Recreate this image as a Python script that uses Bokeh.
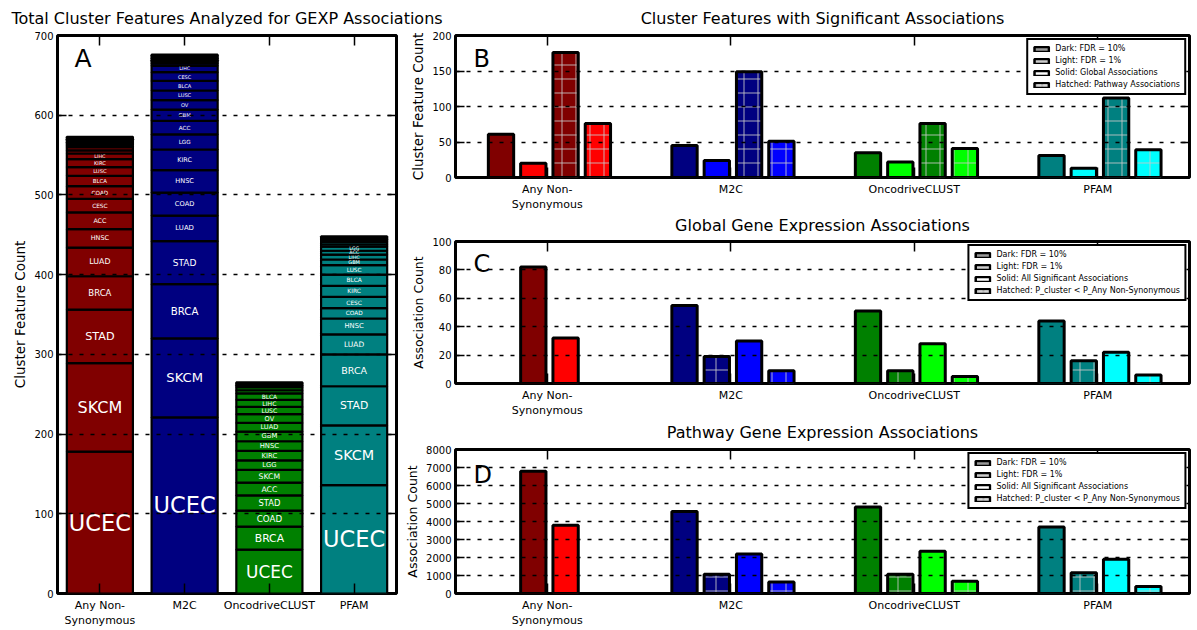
import numpy as np
from bokeh.plotting import figure
from bokeh.models import (ColumnDataSource, FactorRange, Range1d, FixedTicker,
                          LinearAxis, CategoricalAxis, Label, Legend, LegendItem)
from bokeh.layouts import column, row
from bokeh.transform import dodge
from bokeh.core.properties import value
from bokeh.embed import file_html
from bokeh.resources import INLINE

FONT = "DejaVu Sans"

# ---------------- data ----------------
categories = ["Any Non-\nSynonymous", "M2C", "OncodriveCLUST", "PFAM"]
dark_colors = ["#800000", "#000080", "#008000", "#008080"]
light_colors = ["#ff0000", "#0000ff", "#00ff00", "#00ffff"]

# Panel A: cluster features per tumour type (stacked, bottom to top)
any_types = ["UCEC", "SKCM", "STAD", "BRCA", "LUAD", "HNSC", "ACC", "CESC", "COAD", "BLCA",
             "LUSC", "KIRC", "LIHC", "GBM", "LGG", "OV", "PRAD", "KIRP", "READ", "THCA", "UCS", "ESCA"]
any_counts = [178, 111, 67, 42, 36, 23, 21, 17, 16, 13, 11, 10, 7, 4, 4, 2, 2, 2, 2, 2, 2, 1]
m2c_types = ["UCEC", "SKCM", "BRCA", "STAD", "LUAD", "COAD", "HNSC", "KIRC", "LGG", "ACC", "GBM",
             "OV", "LUSC", "BLCA", "CESC", "LIHC", "PRAD", "KIRP", "READ", "THCA", "UCS", "ESCA", "PAAD"]
m2c_counts = [221, 99, 68, 54, 32, 29, 28, 26, 19, 17, 14, 12, 12, 12, 11, 8, 3, 2, 2, 2, 2, 2, 1]
onco_types = ["UCEC", "BRCA", "COAD", "STAD", "ACC", "SKCM", "LGG", "KIRC", "HNSC", "GBM", "LUAD",
              "OV", "LUSC", "LIHC", "BLCA", "CESC", "KIRP", "PRAD", "READ", "THCA"]
onco_counts = [55, 29, 20, 19, 16, 16, 12, 12, 12, 12, 11, 11, 9, 9, 8, 4, 4, 2, 2, 2]
pfam_types = ["UCEC", "SKCM", "STAD", "BRCA", "LUAD", "HNSC", "COAD", "CESC", "KIRC", "BLCA", "LUSC",
              "GBM", "LIHC", "ACC", "LGG", "OV", "PRAD", "KIRP", "READ", "THCA"]
pfam_counts = [136, 75, 49, 40, 25, 20, 13, 14, 14, 14, 12, 7, 6, 5, 5, 3, 3, 3, 2, 2]

a_ticks = [0, 100, 200, 300, 400, 500, 600, 700]
b_ticks = [0, 50, 100, 150, 200]
c_ticks = [0, 20, 40, 60, 80, 100]
d_ticks = [0, 1000, 2000, 3000, 4000, 5000, 6000, 7000, 8000]

# Panel B: cluster features with significant associations
b_dark_global = [61, 45, 35, 31]
b_light_global = [20, 24, 22, 13]
b_dark_pathway = [176, 149, 76, 112]
b_light_pathway = [76, 51, 41, 39]

# Panel C: global gene expression associations
c_dark_all = [82, 55, 51, 44]
c_dark_better = [None, 19, 9, 16]
c_light_all = [32, 30, 28, 22]
c_light_better = [None, 9, 5, 6]

# Panel D: pathway gene expression associations
d_dark_all = [6790, 4550, 4800, 3700]
d_dark_better = [None, 1070, 1070, 1150]
d_light_all = [3790, 2200, 2350, 1900]
d_light_better = [None, 640, 680, 390]

titles = ["Total Cluster Features Analyzed for GEXP Associations",
          "Cluster Features with Significant Associations",
          "Global Gene Expression Associations",
          "Pathway Gene Expression Associations"]
legend_b = ["Dark: FDR = 10%", "Light: FDR = 1%", "Solid: Global Associations",
            "Hatched: Pathway Associations"]
legend_cd = ["Dark: FDR = 10%", "Light: FDR = 1%", "Solid: All Significant Associations",
             "Hatched: P_cluster < P_Any Non-Synonymous"]

# ---------------- helpers ----------------
def style(p, ticks, ylabel, ylabel_size):
    p.background_fill_color = "white"
    p.border_fill_color = "white"
    p.outline_line_color = "black"
    p.outline_line_width = 3
    p.xgrid.visible = False
    p.ygrid.ticker = FixedTicker(ticks=ticks)
    p.ygrid.grid_line_color = "black"
    p.ygrid.grid_line_width = 1.6
    p.ygrid.grid_line_dash = "4 7"
    p.ygrid.level = "guide"
    xa = p.xaxis[0]
    ya = p.yaxis[0]
    ya.ticker = FixedTicker(ticks=ticks)
    top = CategoricalAxis()
    right = LinearAxis(ticker=FixedTicker(ticks=ticks))
    p.add_layout(top, "above")
    p.add_layout(right, "right")
    for ax in (xa, top, ya, right):
        ax.major_tick_out = 0
        ax.major_tick_in = 9
        ax.major_tick_line_width = 1.5
        ax.major_tick_line_color = "black"
        ax.minor_tick_line_color = None
        ax.axis_line_color = None
        ax.major_label_text_font = FONT
        ax.major_label_text_color = "black"
    for ax in (xa, top):
        ax.major_tick_in = 10
    for ax in (top, right):
        # mirrored tick marks only: labels are not painted
        ax.major_label_text_font_size = "0px"
        ax.major_label_text_color = None
        ax.major_label_standoff = 0
    xa.major_label_text_font_size = "11px"
    xa.major_label_standoff = 5
    ya.major_label_text_font_size = "10px"
    ya.major_label_standoff = 4
    ya.axis_label = ylabel
    ya.axis_label_text_font = FONT
    ya.axis_label_text_font_style = "normal"
    ya.axis_label_text_font_size = ylabel_size
    ya.axis_label_text_color = "black"
    ya.axis_label_standoff = 3


def label(p, text, x, y, size, align="left"):
    p.add_layout(Label(x=x, y=y, x_units="screen", y_units="screen", text=text,
                       text_font=FONT, text_font_size=size, text_color="black",
                       text_align=align, text_baseline="alphabetic"))


def title_strip(width, height, texts_x, borders=(0, 0), y=11):
    s = figure(width=width, height=height, x_range=Range1d(0, 1), y_range=Range1d(0, 1),
               toolbar_location=None, output_backend="svg", min_border=0,
               min_border_left=borders[0], min_border_right=borders[1],
               x_axis_type=None, y_axis_type=None, outline_line_color=None)
    for text, x in texts_x:
        label(s, text, x, y, "16px", "center")
    return s


STEP = 0.176
BAR_W = 0.138
SHIFT = 0.012


def grouped(p, series):
    for ci, cat in enumerate(categories):
        present = [s for s in series if s[0][ci] is not None]
        k = len(present)
        for j, (vals, cols, hatched) in enumerate(present):
            off = (j - (k - 1) / 2) * STEP + SHIFT
            src = ColumnDataSource(dict(x=[cat], top=[vals[ci]]))
            kw = {}
            if hatched:
                kw = dict(hatch_pattern="+", hatch_color="#c8c8c8", hatch_alpha=0.85,
                          hatch_scale=14, hatch_weight=1)
            p.vbar(x=dodge("x", off, range=p.x_range), top="top", bottom=0, width=BAR_W,
                   source=src, fill_color=cols[ci], line_color="black", line_width=3, **kw)


def add_legend(p, labels):
    styles = [dict(fill_color="#999999"), dict(fill_color="#cccccc"), dict(fill_color="white"),
              dict(fill_color="white", hatch_pattern="+", hatch_color="#aaaaaa",
                   hatch_scale=6, hatch_weight=1)]
    items = []
    for lab, st in zip(labels, styles):
        # legend proxy: not drawn in the plot, only its swatch in the legend
        r = p.vbar(x=[categories[0]], top=[1], width=0.1, line_color="black",
                   line_width=2.5, **st)
        r.visible = False
        items.append(LegendItem(label=lab, renderers=[r]))
    leg = Legend(items=items, location="top_right", label_text_font=FONT,
                 label_text_font_size="8px", label_text_color="black",
                 glyph_width=18, glyph_height=6,
                 label_height=9, label_standoff=5, spacing=3, padding=4, margin=3,
                 border_line_color="black", border_line_width=2, border_line_alpha=1,
                 background_fill_color="white", background_fill_alpha=1,
                 click_policy="none")
    p.add_layout(leg)


def fig(width, height, top, mb):
    return figure(width=width, height=height, x_range=FactorRange(factors=categories),
                  y_range=Range1d(0, top), toolbar_location=None, output_backend="svg",
                  min_border_left=mb[0], min_border_right=mb[1], min_border_top=mb[2],
                  min_border_bottom=mb[3])


# ---------------- title strips ----------------
STRIP_H = 29
strip = title_strip(1197, STRIP_H, [(titles[0], 226.5), (titles[1], 822)])
# strips above C and D share the frame of the right-hand panels (x 455..1189)
strip_c = title_strip(797, 22, [(titles[2], 367)], borders=(55, 8))
strip_d = title_strip(797, 23, [(titles[3], 367)], borders=(55, 8))

# ---------------- panel A ----------------
pA = fig(400, 630 - STRIP_H, 700, (57, 4, 6, 31))
style(pA, a_ticks, "Cluster Feature Count", "13.5px")

a_types = [any_types, m2c_types, onco_types, pfam_types]
a_counts = [any_counts, m2c_counts, onco_counts, pfam_counts]
seg = dict(x=[], bottom=[], top=[], color=[])
lab = dict(x=[], y=[], text=[], size=[])
for cat, types, counts, color in zip(categories, a_types, a_counts, dark_colors):
    c = np.asarray(counts, dtype=float)
    tops = np.cumsum(c)
    bottoms = tops - c
    frac = c / tops[-1]
    for t, b, tp, f, v in zip(types, bottoms, tops, frac, c):
        seg["x"].append(cat)
        seg["bottom"].append(b)
        seg["top"].append(tp)
        seg["color"].append(color)
        if v >= 5:
            lab["x"].append(cat)
            lab["y"].append((b + tp) / 2)
            lab["text"].append(t)
            lab["size"].append("%.1fpx" % min(22.5, 4 + 62 * f))

pA.vbar(x="x", bottom="bottom", top="top", width=0.78, fill_color="color",
        line_color="black", line_width=2.2, source=ColumnDataSource(seg))
pA.text(x="x", y="y", text="text", text_font_size="size", text_color="white",
        text_align="center", text_baseline="middle", text_font=value(FONT),
        source=ColumnDataSource(lab))
label(pA, "A", 17, 535, "25px")

# ---------------- panel B ----------------
pB = fig(797, 185, 200, (55, 8, 6, 30))
style(pB, b_ticks, "Cluster Feature Count", "13.5px")
grouped(pB, [(b_dark_global, dark_colors, False), (b_light_global, light_colors, False),
             (b_dark_pathway, dark_colors, True), (b_light_pathway, light_colors, True)])
add_legend(pB, legend_b)
label(pB, "B", 18, 119, "24px")

# ---------------- panel C ----------------
pC = fig(797, 184, 100, (55, 8, 5, 28))
style(pC, c_ticks, "Association Count", "12.5px")
grouped(pC, [(c_dark_all, dark_colors, False), (c_dark_better, dark_colors, True),
             (c_light_all, light_colors, False), (c_light_better, light_colors, True)])
add_legend(pC, legend_cd)
label(pC, "C", 18, 120, "24px")

# ---------------- panel D ----------------
pD = fig(797, 187, 8000, (55, 8, 6, 31))
style(pD, d_ticks, "Association Count", "12.5px")
grouped(pD, [(d_dark_all, dark_colors, False), (d_dark_better, dark_colors, True),
             (d_light_all, light_colors, False), (d_light_better, light_colors, True)])
add_legend(pD, legend_cd)
label(pD, "D", 18, 119, "24px")

right_col = column(pB, strip_c, pC, strip_d, pD, spacing=0)
layout = column(strip, row(pA, right_col, spacing=0), spacing=0)
open("out.html", "w").write(file_html(layout, INLINE))
